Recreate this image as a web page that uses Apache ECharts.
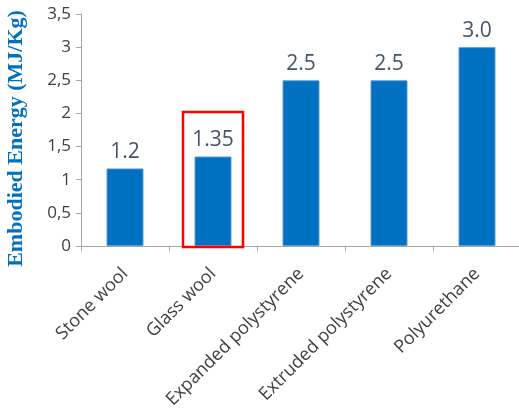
<!DOCTYPE html>
<html>
<head>
<meta charset="utf-8">
<script src="https://cdn.jsdelivr.net/npm/echarts@6/dist/echarts.min.js"></script>
<style>
  html, body { margin: 0; padding: 0; background: #fff; }
  #chart { width: 519px; height: 413px; }
</style>
</head>
<body>
<div id="chart"></div>
<script>
const categories = ['Stone wool', 'Glass wool', 'Expanded polystyrene', 'Extruded polystyrene', 'Polyurethane']
const energyValues = [1.17, 1.35, 2.5, 2.5, 3.0]
const valueLabels = ['1.2', '1.35', '2.5', '2.5', '3.0']
const highlightIndex = 1
const highlightTop = 2.02

const chart = echarts.init(document.getElementById('chart'))

const option = {
  animation: false,
  grid: {
    left: 81,
    right: -2,
    top: 14,
    bottom: 167,
    containLabel: false,
    outerBoundsMode: 'none'
  },
  xAxis: {
    type: 'category',
    data: categories,
    axisLine: { lineStyle: { color: '#a6a6a6', width: 1 } },
    axisTick: { show: true, length: 5, lineStyle: { color: '#a6a6a6' } },
    axisLabel: {
      interval: 0,
      rotate: 45,
      margin: 25,
      padding: [26, 0, 0, 0],
      color: '#404040',
      fontFamily: 'Open Sans',
      fontSize: 18
    }
  },
  yAxis: {
    type: 'value',
    min: 0,
    max: 3.5,
    interval: 0.5,
    name: 'Embodied Energy (MJ/Kg)',
    nameLocation: 'middle',
    nameGap: 54,
    nameTextStyle: {
      color: '#0070c0',
      fontFamily: 'Liberation Serif',
      fontWeight: 'bold',
      fontSize: 22,
      padding: [0, 17, 0, 0]
    },
    axisLine: { show: true, lineStyle: { color: '#a6a6a6', width: 1 } },
    axisTick: { show: true, length: 5, lineStyle: { color: '#a6a6a6' } },
    splitLine: { show: false },
    axisLabel: {
      margin: 10,
      color: '#404040',
      fontFamily: 'Open Sans',
      fontSize: 17,
      formatter: v => String(v).replace('.', ',')
    }
  },
  series: [
    {
      type: 'bar',
      data: energyValues,
      barWidth: 37,
      itemStyle: {
        color: '#0070c0',
        borderColor: '#5b9bd5',
        borderWidth: 1
      },
      label: {
        show: true,
        position: 'top',
        distance: 6,
        color: '#44546a',
        fontFamily: 'Open Sans',
        fontSize: 21,
        formatter: p => valueLabels[p.dataIndex]
      }
    }
  ]
}

chart.setOption(option)

// red box around the highlighted bar
const topPt = chart.convertToPixel({ seriesIndex: 0 }, [highlightIndex, highlightTop])
const basePt = chart.convertToPixel({ seriesIndex: 0 }, [highlightIndex, 0])
chart.setOption({
  graphic: [
    {
      type: 'rect',
      shape: {
        x: topPt[0] - 30,
        y: topPt[1],
        width: 60,
        height: basePt[1] - topPt[1] + 1
      },
      style: { fill: 'none', stroke: '#ff0000', lineWidth: 2.5 },
      z: 10
    }
  ]
})
</script>
</body>
</html>
